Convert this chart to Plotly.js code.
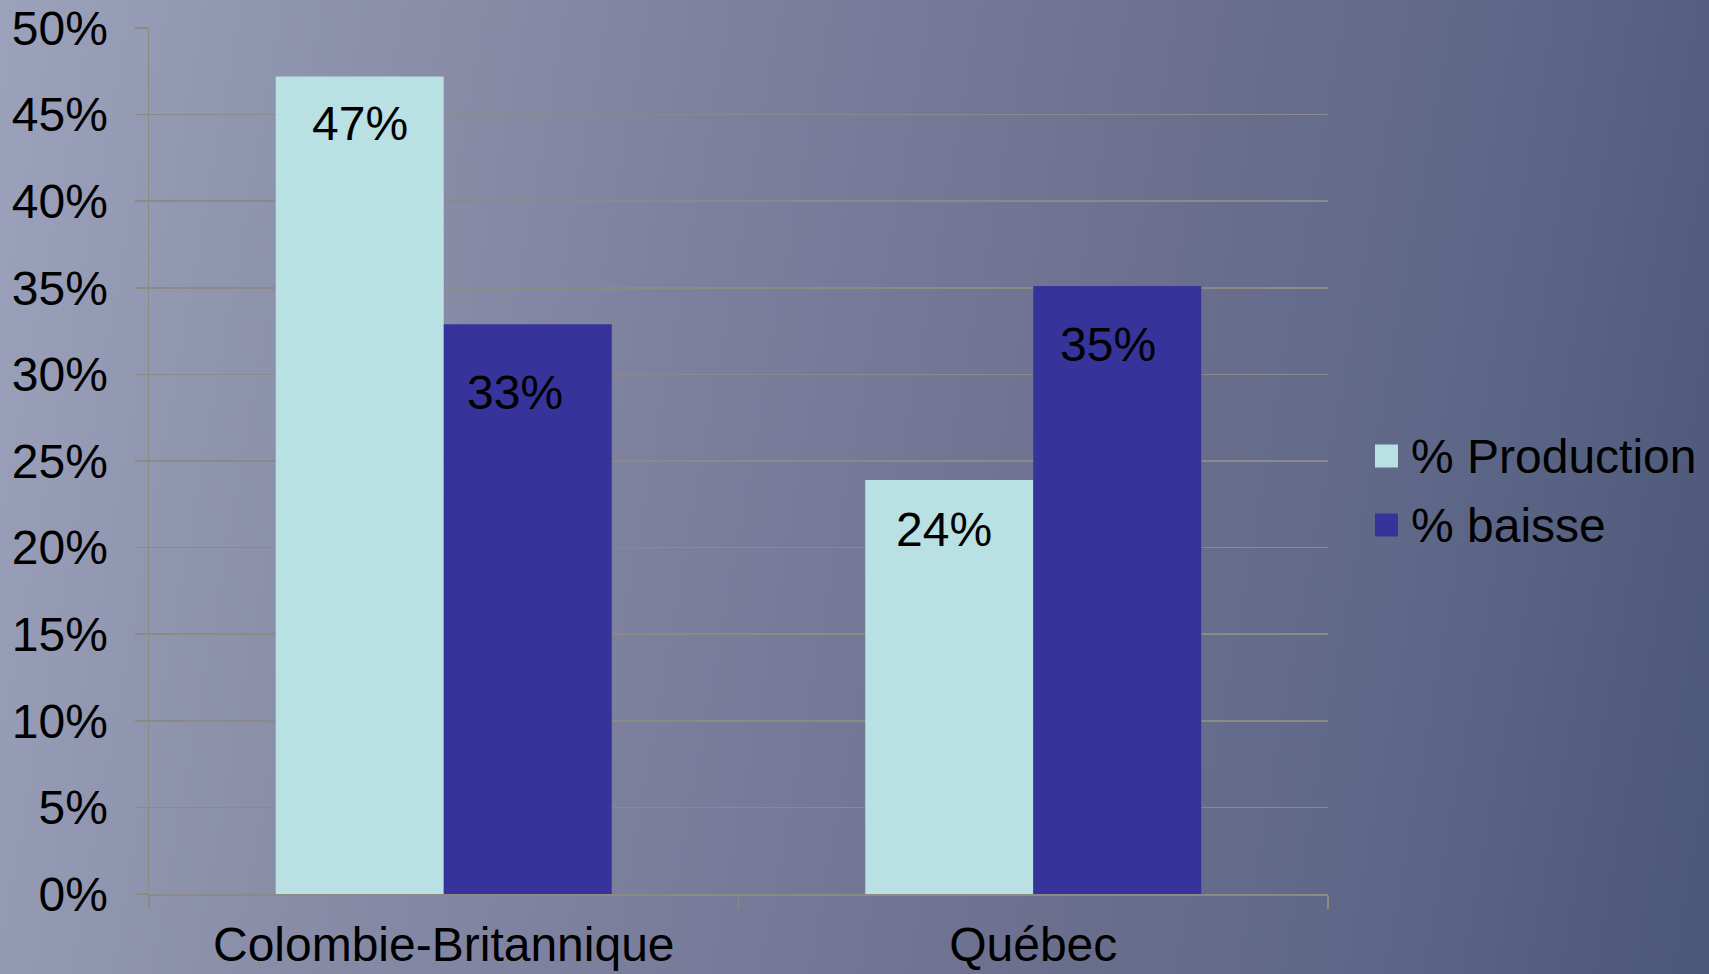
<!DOCTYPE html>
<html>
<head>
<meta charset="utf-8">
<script src="https://cdn.plot.ly/plotly-3.0.1.min.js"></script>
<style>
  body { margin: 0; }
  #chart {
    width: 1709px;
    height: 974px;
    background: linear-gradient(100deg, #9ca2bb 0%, #878ba6 26%, #787b99 46%, #6c6f8e 64%, #5f6888 80%, #4b5777 100%);
  }
</style>
</head>
<body>
<div id="chart"></div>
<script>
const regions = ['Colombie-Britannique', 'Québec'];
const seriesNames = ['% Production', '% baisse'];
const production = [0.472, 0.239];
const baisse = [0.329, 0.351];
const seriesColors = ['#b9e0e3', '#36349a'];
const yTicks = [0, 0.05, 0.1, 0.15, 0.2, 0.25, 0.3, 0.35, 0.4, 0.45, 0.5];

const font = 'Liberation Sans, Arial, sans-serif';
const fontSize = 48;
const gridColor = '#8b8a84';
const bargap = 0.43;

// small hand nudges (px) for the value labels, [series][region]
const labelDx = [[0, -5], [-13, -9]];
const labelDy = [[0, -3], [-22, -12]];

// plot area in pixels, used to place the hand-made legend
const plotL = 149, plotR = 1328, plotT = 28, plotB = 894;
function px(x) { return (x - plotL) / (plotR - plotL); }
function py(y) { return (plotB - y) / (plotB - plotT); }

const allSeries = [production, baisse];

const traces = allSeries.map((vals, i) => ({
    type: 'bar',
    x: regions,
    y: vals,
    name: seriesNames[i],
    marker: { color: seriesColors[i], line: { width: 0 } },
    textposition: 'none',
    hoverinfo: 'skip',
    showlegend: false
}));

// value labels sit a little below the top of each bar
const barW = (1 - bargap) / 2;
const annotations = [];
allSeries.forEach((vals, i) => {
    vals.forEach((v, j) => {
        annotations.push({
            xref: 'x', yref: 'y',
            x: j + (i - 0.5) * barW,
            y: v,
            yanchor: 'top',
            xshift: labelDx[i][j],
            yshift: -18 + labelDy[i][j],
            text: Math.round(v * 100) + '%',
            showarrow: false,
            font: { family: font, size: fontSize, color: '#000' }
        });
    });
});

// legend
const shapes = [];
const legendRows = [456, 525];
seriesNames.forEach((name, i) => {
    const cy = legendRows[i];
    shapes.push({
        type: 'rect', xref: 'paper', yref: 'paper',
        x0: px(1375), x1: px(1398), y0: py(cy + 11.5), y1: py(cy - 11.5),
        fillcolor: seriesColors[i], line: { width: 0 }
    });
    annotations.push({
        xref: 'paper', yref: 'paper',
        x: px(1409), y: py(cy),
        xanchor: 'left', yanchor: 'middle',
        text: name, showarrow: false,
        font: { family: font, size: fontSize, color: '#000' }
    });
});

const layout = {
    width: 1709,
    height: 974,
    margin: { l: plotL, r: 1709 - plotR, t: plotT, b: 974 - plotB },
    paper_bgcolor: 'rgba(0,0,0,0)',
    plot_bgcolor: 'rgba(0,0,0,0)',
    barmode: 'group',
    bargap: bargap,
    bargroupgap: 0,
    showlegend: false,
    font: { family: font, size: fontSize, color: '#000' },
    xaxis: {
        type: 'category',
        showline: true,
        linecolor: gridColor,
        linewidth: 1.5,
        ticks: 'outside',
        tickson: 'boundaries',
        ticklen: 13,
        tickcolor: gridColor,
        tickwidth: 1.5,
        showgrid: false,
        ticklabelstandoff: 8,
        tickfont: { family: font, size: fontSize, color: '#000' }
    },
    yaxis: {
        range: [0, 0.5],
        tickvals: yTicks,
        tickformat: '.0%',
        showline: true,
        linecolor: gridColor,
        linewidth: 1.5,
        ticks: 'outside',
        ticklen: 13,
        tickcolor: gridColor,
        tickwidth: 1.5,
        showgrid: true,
        gridcolor: gridColor,
        gridwidth: 1.5,
        zeroline: false,
        ticklabelstandoff: 17,
        tickfont: { family: font, size: fontSize, color: '#000' }
    },
    annotations: annotations,
    shapes: shapes
};

Plotly.newPlot('chart', traces, layout, { displayModeBar: false, staticPlot: true });
</script>
</body>
</html>
